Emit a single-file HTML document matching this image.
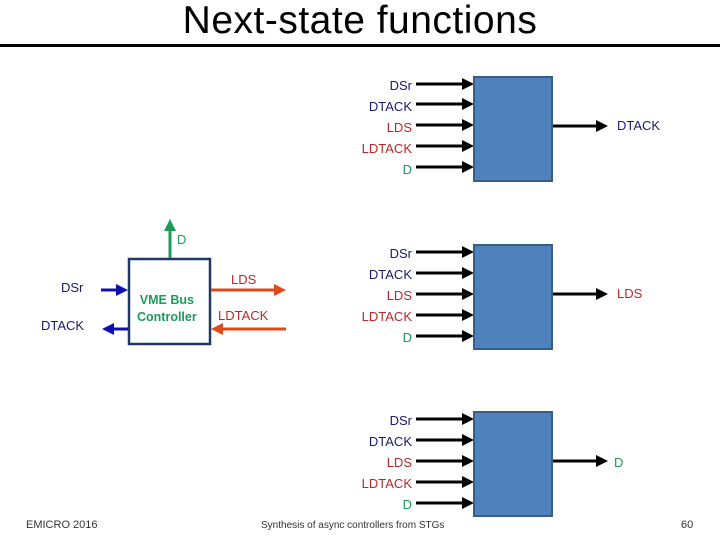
<!DOCTYPE html>
<html><head><style>
body{margin:0;width:720px;height:540px;background:#fff;overflow:hidden;position:relative;font-family:"Liberation Sans",sans-serif}
.t{position:absolute;font-size:13px;white-space:nowrap}
.n{color:#1a1a6e}.r{color:#b8282a}.g{color:#1e9a5a}
</style></head><body>
<div style="position:absolute;left:0;width:720px;top:-2px;text-align:center;font-size:39px;line-height:46px;color:#000;letter-spacing:0.5px">Next-state functions</div>
<div style="position:absolute;left:0;top:44px;width:720px;height:3px;background:#000"></div>
<svg width="720" height="540" style="position:absolute;left:0;top:0">
<defs>
<marker id="k" markerWidth="4" markerHeight="4" refX="3" refY="2" orient="auto"><path d="M0,0L4,2L0,4z" fill="#000"/></marker>
<marker id="b" markerWidth="4" markerHeight="4" refX="3" refY="2" orient="auto"><path d="M0,0L4,2L0,4z" fill="#1010b0"/></marker>
<marker id="o" markerWidth="4" markerHeight="4" refX="3" refY="2" orient="auto"><path d="M0,0L4,2L0,4z" fill="#e04a1a"/></marker>
<marker id="gr" markerWidth="4" markerHeight="4" refX="3" refY="2" orient="auto"><path d="M0,0L4,2L0,4z" fill="#1e9a5a"/></marker>
</defs>
<g stroke="#000" stroke-width="3">
<line x1="416" y1="84" x2="471" y2="84" marker-end="url(#k)"/>
<line x1="416" y1="104" x2="471" y2="104" marker-end="url(#k)"/>
<line x1="416" y1="125" x2="471" y2="125" marker-end="url(#k)"/>
<line x1="416" y1="146" x2="471" y2="146" marker-end="url(#k)"/>
<line x1="416" y1="167" x2="471" y2="167" marker-end="url(#k)"/>
<line x1="553" y1="126" x2="605" y2="126" marker-end="url(#k)"/>
<line x1="416" y1="252" x2="471" y2="252" marker-end="url(#k)"/>
<line x1="416" y1="273" x2="471" y2="273" marker-end="url(#k)"/>
<line x1="416" y1="294" x2="471" y2="294" marker-end="url(#k)"/>
<line x1="416" y1="315" x2="471" y2="315" marker-end="url(#k)"/>
<line x1="416" y1="336" x2="471" y2="336" marker-end="url(#k)"/>
<line x1="553" y1="294" x2="605" y2="294" marker-end="url(#k)"/>
<line x1="416" y1="419" x2="471" y2="419" marker-end="url(#k)"/>
<line x1="416" y1="440" x2="471" y2="440" marker-end="url(#k)"/>
<line x1="416" y1="461" x2="471" y2="461" marker-end="url(#k)"/>
<line x1="416" y1="482" x2="471" y2="482" marker-end="url(#k)"/>
<line x1="416" y1="503" x2="471" y2="503" marker-end="url(#k)"/>
<line x1="553" y1="461" x2="605" y2="461" marker-end="url(#k)"/>
</g>
<g fill="#4f81bd" stroke="#385d8a" stroke-width="2">
<rect x="474" y="77" width="78" height="104"/>
<rect x="474" y="245" width="78" height="104"/>
<rect x="474" y="412" width="78" height="104"/>
</g>
<rect x="129" y="259" width="81" height="85" fill="#fff" stroke="#1f3864" stroke-width="2.5"/>
<line x1="170" y1="258" x2="170" y2="222" stroke="#1e9a5a" stroke-width="3" marker-end="url(#gr)"/>
<line x1="101" y1="290" x2="125" y2="290" stroke="#1010b0" stroke-width="3" marker-end="url(#b)"/>
<line x1="128" y1="329" x2="105" y2="329" stroke="#1010b0" stroke-width="3" marker-end="url(#b)"/>
<line x1="211" y1="290" x2="283" y2="290" stroke="#e04a1a" stroke-width="3" marker-end="url(#o)"/>
<line x1="286" y1="329" x2="214" y2="329" stroke="#e04a1a" stroke-width="3" marker-end="url(#o)"/>
</svg>
<div class="t g" style="left:177px;top:232px">D</div>
<div class="t n" style="left:61px;top:280px">DSr</div>
<div class="t n" style="left:41px;top:318px">DTACK</div>
<div class="t r" style="left:231px;top:272px">LDS</div>
<div class="t r" style="left:218px;top:308px">LDTACK</div>
<div class="t g" style="left:137px;top:292px;font-weight:bold;font-size:12.5px;line-height:17px;text-align:center">VME Bus<br>Controller</div>
<div style="position:absolute;right:308px;top:75px;text-align:right;font-size:13px;line-height:21px">
<div class="n">DSr</div><div class="n">DTACK</div><div class="r">LDS</div><div class="r">LDTACK</div><div class="g">D</div></div>
<div style="position:absolute;right:308px;top:243px;text-align:right;font-size:13px;line-height:21px">
<div class="n">DSr</div><div class="n">DTACK</div><div class="r">LDS</div><div class="r">LDTACK</div><div class="g">D</div></div>
<div style="position:absolute;right:308px;top:410px;text-align:right;font-size:13px;line-height:21px">
<div class="n">DSr</div><div class="n">DTACK</div><div class="r">LDS</div><div class="r">LDTACK</div><div class="g">D</div></div>
<div class="t n" style="left:617px;top:118px">DTACK</div>
<div class="t r" style="left:617px;top:286px">LDS</div>
<div class="t g" style="left:614px;top:455px">D</div>
<div class="t" style="left:26px;top:519px;font-size:11px;color:#333">EMICRO 2016</div>
<div class="t" style="left:261px;top:520px;font-size:10px;color:#333">Synthesis of async controllers from STGs</div>
<div class="t" style="left:681px;top:519px;font-size:11px;color:#333">60</div>
</body></html>
